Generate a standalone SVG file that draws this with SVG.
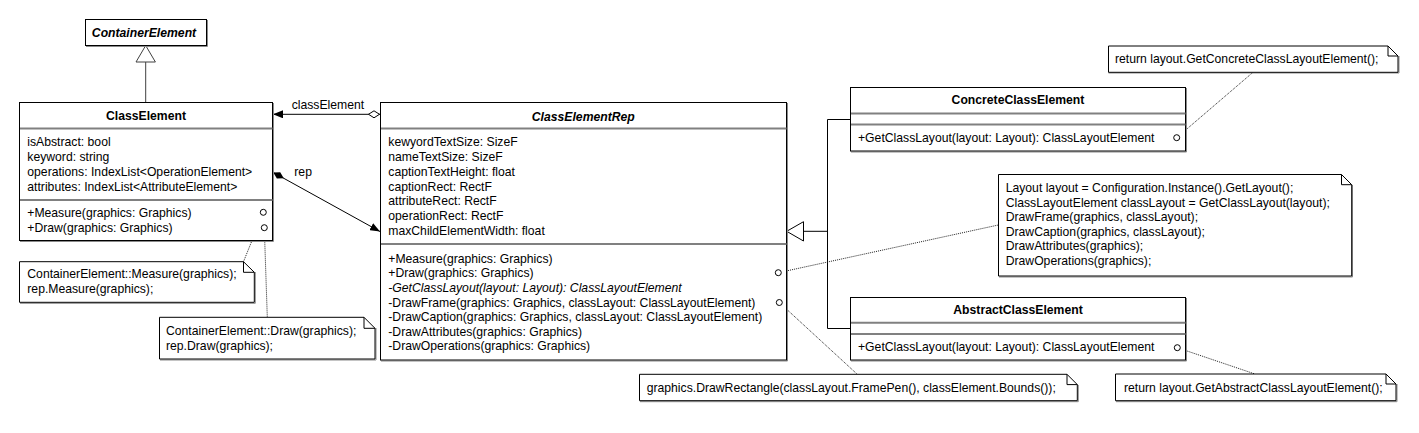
<svg xmlns="http://www.w3.org/2000/svg" width="1419" height="433" viewBox="0 0 1419 433">
<style>
text{font-family:"Liberation Sans",Arial,sans-serif;font-size:12.2px;fill:#000}
.t{font-weight:bold;text-anchor:middle}
.ti{font-weight:bold;font-style:italic;text-anchor:middle}
.it{font-style:italic}
.box{fill:#fff;stroke:#000;stroke-width:1}
.sh{fill:none;stroke:#8a8a8a;stroke-width:1}
.div{stroke:#808080;stroke-width:2}
.ln{fill:none;stroke:#000;stroke-width:1}
.gl{fill:none;stroke:#404040;stroke-width:1}
.dot{fill:none;stroke:#222;stroke-width:1;stroke-dasharray:1 1}
.pin{fill:#fff;stroke:#000;stroke-width:1}
</style>
<defs>
<marker id="arr" viewBox="0 0 10 8" refX="10" refY="4" markerWidth="10" markerHeight="8" markerUnits="userSpaceOnUse" orient="auto"><path d="M0,0 L10,4 L0,8 z" fill="#000"/></marker>
<marker id="dh" viewBox="0 0 12 8" refX="0" refY="4" markerWidth="12" markerHeight="8" markerUnits="userSpaceOnUse" orient="auto"><path d="M0.5,4 L6,0.5 L11.5,4 L6,7.5 z" fill="#fff" stroke="#000" stroke-width="1"/></marker>
<marker id="df" viewBox="0 0 12 8" refX="0" refY="4" markerWidth="12" markerHeight="8" markerUnits="userSpaceOnUse" orient="auto"><path d="M0,4 L6,0.5 L12,4 L6,7.5 z" fill="#000"/></marker>
</defs>
<rect width="1419" height="433" fill="#fff"/>

<g id="connectors">
<line class="gl" x1="145.7" y1="62" x2="145.7" y2="102.5"/>
<polygon points="145.7,45.5 136,62 155.4,62" fill="#fff" stroke="#404040"/>
<line class="ln" x1="380" y1="114.3" x2="273" y2="114.3" marker-start="url(#dh)" marker-end="url(#arr)"/>
<line class="ln" x1="273.3" y1="172.5" x2="380" y2="231.5" marker-start="url(#df)" marker-end="url(#arr)"/>
<text x="291.7" y="108.5">classElement</text>
<text x="294.3" y="175.5">rep</text>
<polyline class="ln" points="850.5,119.5 827.5,119.5 827.5,328.5 850.5,328.5"/>
<line class="ln" x1="803.5" y1="231.3" x2="827.5" y2="231.3"/>
<polygon points="786.7,231.3 803.5,221.7 803.5,241" fill="#fff" stroke="#000"/>
<line class="dot" x1="263.3" y1="212.3" x2="243.5" y2="261.7"/>
<line class="dot" x1="264.3" y1="227.7" x2="267.3" y2="317.3"/>
<line class="dot" x1="778.3" y1="272.7" x2="998.3" y2="225"/>
<line class="dot" x1="779.3" y1="302.5" x2="857.3" y2="374.3"/>
<line class="dot" x1="1176.7" y1="137.7" x2="1253" y2="72.3"/>
<line class="dot" x1="1177.3" y1="347.7" x2="1255" y2="374"/>
</g>

<g id="ContainerElement">
<polyline class="sh" points="207.5,20 207.5,46.5 86,46.5"/>
<rect class="box" x="85.5" y="19.5" width="121" height="26"/>
<text class="ti" x="144" y="36.5">ContainerElement</text>
</g>

<g id="ClassElement">
<polyline class="sh" points="273.5,103 273.5,241.5 20,241.5"/>
<rect class="box" x="19.5" y="102.5" width="253" height="138"/>
<line class="div" x1="20" y1="128.5" x2="272.5" y2="128.5"/>
<line class="div" x1="20" y1="200" x2="272.5" y2="200"/>
<text class="t" x="146" y="119.5">ClassElement</text>
<text x="27.3" y="146">isAbstract: bool</text>
<text x="27.3" y="161">keyword: string</text>
<text x="27.3" y="176">operations: IndexList&lt;OperationElement&gt;</text>
<text x="27.3" y="191">attributes: IndexList&lt;AttributeElement&gt;</text>
<text x="27.3" y="217">+Measure(graphics: Graphics)</text>
<text x="27.3" y="232">+Draw(graphics: Graphics)</text>
<circle class="pin" cx="263.3" cy="212.3" r="3"/>
<circle class="pin" cx="264.3" cy="227.7" r="3"/>
</g>

<g id="ClassElementRep">
<polyline class="sh" points="787.5,103 787.5,361 381,361"/>
<rect class="box" x="380.5" y="102.5" width="406" height="257.5"/>
<line class="div" x1="381" y1="128.5" x2="786.5" y2="128.5"/>
<line class="div" x1="381" y1="244" x2="786.5" y2="244"/>
<text class="ti" x="583.3" y="120.5">ClassElementRep</text>
<text x="388.3" y="146">kewyordTextSize: SizeF</text>
<text x="388.3" y="160.8">nameTextSize: SizeF</text>
<text x="388.3" y="175.7">captionTextHeight: float</text>
<text x="388.3" y="190.5">captionRect: RectF</text>
<text x="388.3" y="205.3">attributeRect: RectF</text>
<text x="388.3" y="220.2">operationRect: RectF</text>
<text x="388.3" y="235">maxChildElementWidth: float</text>
<text x="388.3" y="262.7">+Measure(graphics: Graphics)</text>
<text x="388.3" y="277.3">+Draw(graphics: Graphics)</text>
<text x="388.3" y="291.9" class="it">-GetClassLayout(layout: Layout): ClassLayoutElement</text>
<text x="388.3" y="306.5">-DrawFrame(graphics: Graphics, classLayout: ClassLayoutElement)</text>
<text x="388.3" y="321.1">-DrawCaption(graphics: Graphics, classLayout: ClassLayoutElement)</text>
<text x="388.3" y="335.7">-DrawAttributes(graphics: Graphics)</text>
<text x="388.3" y="350.3">-DrawOperations(graphics: Graphics)</text>
<circle class="pin" cx="778.3" cy="272.7" r="3"/>
<circle class="pin" cx="779.3" cy="302.5" r="3"/>
</g>

<g id="ConcreteClassElement">
<polyline class="sh" points="1186.5,88 1186.5,152 851,152"/>
<rect class="box" x="850.5" y="87.5" width="335" height="63.5"/>
<line class="div" x1="851" y1="113.5" x2="1185.5" y2="113.5"/>
<line class="div" x1="851" y1="124.5" x2="1185.5" y2="124.5"/>
<text class="t" x="1018" y="104.3">ConcreteClassElement</text>
<text x="858" y="141.5">+GetClassLayout(layout: Layout): ClassLayoutElement</text>
<circle class="pin" cx="1176.7" cy="137.7" r="3"/>
</g>

<g id="AbstractClassElement">
<polyline class="sh" points="1186.5,298 1186.5,361 851,361"/>
<rect class="box" x="850.5" y="297.5" width="335" height="62.5"/>
<line class="div" x1="851" y1="322.7" x2="1185.5" y2="322.7"/>
<line class="div" x1="851" y1="334" x2="1185.5" y2="334"/>
<text class="t" x="1018" y="314">AbstractClassElement</text>
<text x="858" y="351">+GetClassLayout(layout: Layout): ClassLayoutElement</text>
<circle class="pin" cx="1177.3" cy="347.7" r="3"/>
</g>

<g id="NoteConcrete">
<polyline class="sh" points="1399,56 1399,73 1108.5,73"/>
<path class="box" d="M1108.5,46 H1388 L1398,56 V72.3 H1108.5 Z M1388,46 V56 H1398"/>
<text x="1115" y="63">return layout.GetConcreteClassLayoutElement();</text>
</g>

<g id="NoteDraw2">
<polyline class="sh" points="1352.5,185 1352.5,277 999,277"/>
<path class="box" d="M998.5,174.5 H1341.5 L1351.7,184.7 V276 H998.5 Z M1341.5,174.5 V184.7 H1351.7"/>
<text x="1005.7" y="192">Layout layout = Configuration.Instance().GetLayout();</text>
<text x="1005.7" y="206.6">ClassLayoutElement classLayout = GetClassLayout(layout);</text>
<text x="1005.7" y="221.2">DrawFrame(graphics, classLayout);</text>
<text x="1005.7" y="235.8">DrawCaption(graphics, classLayout);</text>
<text x="1005.7" y="250.4">DrawAttributes(graphics);</text>
<text x="1005.7" y="265">DrawOperations(graphics);</text>
</g>

<g id="NoteMeasure">
<polyline class="sh" points="255.3,272 255.3,303.3 20,303.3"/>
<path class="box" d="M19.5,261.7 H243.5 L254.3,272.3 V302.3 H19.5 Z M243.5,261.7 V272.3 H254.3"/>
<text x="27.3" y="277.7">ContainerElement::Measure(graphics);</text>
<text x="27.3" y="292.7">rep.Measure(graphics);</text>
</g>

<g id="NoteDraw">
<polyline class="sh" points="376,328 376,360 160,360"/>
<path class="box" d="M159.5,317.3 H364 L375,328.3 V359 H159.5 Z M364,317.3 V328.3 H375"/>
<text x="166" y="335">ContainerElement::Draw(graphics);</text>
<text x="166" y="350">rep.Draw(graphics);</text>
</g>

<g id="NoteFrame">
<polyline class="sh" points="1078.3,385 1078.3,401.7 640,401.7"/>
<path class="box" d="M639.5,374.3 H1067 L1077.3,384.6 V400.7 H639.5 Z M1067,374.3 V384.6 H1077.3"/>
<text x="646.7" y="392">graphics.DrawRectangle(classLayout.FramePen(), classElement.Bounds());</text>
</g>

<g id="NoteAbstract">
<polyline class="sh" points="1397,384 1397,401.7 1116,401.7"/>
<path class="box" d="M1115.5,374 H1386 L1396,384 V400.7 H1115.5 Z M1386,374 V384 H1396"/>
<text x="1124" y="392">return layout.GetAbstractClassLayoutElement();</text>
</g>
</svg>
